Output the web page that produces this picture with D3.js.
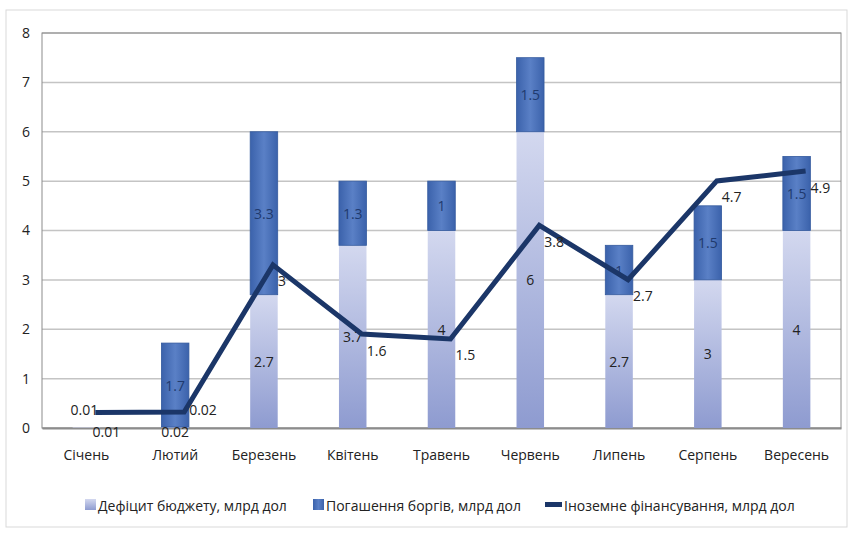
<!DOCTYPE html>
<html>
<head>
<meta charset="utf-8">
<script src="https://cdn.jsdelivr.net/npm/d3@7"></script>
<style>
  body { margin: 0; background: #fff; }
  text { font-family: "Open Sans", "Noto Sans", sans-serif; fill: #222; }
</style>
</head>
<body>
<div id="chart"></div>
<script>

// chart data
const months = ["Січень", "Лютий", "Березень", "Квітень", "Травень", "Червень", "Липень", "Серпень", "Вересень"];
const deficit = [0.01, 0.02, 2.7, 3.7, 4, 6, 2.7, 3, 4];
const debts = [0, 1.7, 3.3, 1.3, 1, 1.5, 1, 1.5, 1.5];
const foreign = [0.01, 0.02, 3, 1.6, 1.5, 3.8, 2.7, 4.7, 4.9];
const yTicks = [0, 1, 2, 3, 4, 5, 6, 7, 8];
const seriesNames = ["Дефіцит бюджету, млрд дол", "Погашення боргів, млрд дол", "Іноземне фінансування, млрд дол"];

var svgWidth = 850;
var svgHeight = 533;

// plot area edges
const plotLeft = 42, plotRight = 841, plotTop = 33, plotBottom = 428;

const svg = d3.select("#chart")
              .append("svg")
                .attr("width", svgWidth)
                .attr("height", svgHeight);

// gradients for the bars
const defs = svg.append("defs");
const g1 = defs.append("linearGradient").attr("id", "defGrad")
                .attr("x1", 0).attr("y1", 0).attr("x2", 0).attr("y2", 1);
g1.append("stop").attr("offset", "0%").attr("stop-color", "#d3d8ef");
g1.append("stop").attr("offset", "100%").attr("stop-color", "#8e9bd0");

const g2 = defs.append("linearGradient").attr("id", "debtGrad")
                .attr("x1", 0).attr("y1", 0).attr("x2", 1).attr("y2", 0);
g2.append("stop").attr("offset", "0%").attr("stop-color", "#3b62ab");
g2.append("stop").attr("offset", "50%").attr("stop-color", "#5a80c6");
g2.append("stop").attr("offset", "100%").attr("stop-color", "#3b62ab");

// outer chart border
svg.append("rect")
    .attr("x", 6).attr("y", 10)
    .attr("width", 841).attr("height", 517)
    .style("fill", "none")
    .style("stroke", "#d9d9d9");

// scales
const x = d3.scaleBand()
            .domain(months)
            .range([plotLeft, plotRight])
            .paddingInner(0.69)
            .paddingOuter(0.345);

const y = d3.scaleLinear()
            .domain([0, 8])
            .range([plotBottom, plotTop]);

// gridlines
svg.append("g")
    .selectAll("line")
    .data(yTicks)
    .enter()
    .append("line")
    .attr("x1", plotLeft)
    .attr("x2", plotRight)
    .attr("y1", d => y(d))
    .attr("y2", d => y(d))
    .style("stroke", "#c4c4c4")
    .style("stroke-width", 1.5);

// plot area border
svg.append("rect")
    .attr("x", plotLeft).attr("y", plotTop)
    .attr("width", plotRight - plotLeft).attr("height", plotBottom - plotTop)
    .style("fill", "none")
    .style("stroke", "#8c8c8c")
    .style("stroke-width", 1);

// y axis
const yAxis = svg.append("g")
    .attr("transform", "translate(" + plotLeft + ",0)")
    .call(d3.axisLeft(y).tickValues(yTicks).tickFormat(d3.format("d")).tickSize(0).tickPadding(12));
yAxis.select(".domain").remove();
yAxis.selectAll("text").style("font-size", "14px");

// x axis
const xAxis = svg.append("g")
    .attr("transform", "translate(0," + plotBottom + ")")
    .call(d3.axisBottom(x).tickSize(0).tickPadding(22));
xAxis.select(".domain").style("stroke", "#8c8c8c").style("stroke-width", 2);
xAxis.selectAll("text").style("font-size", "14px");

// stacked bars
const stacked = months.map((m, i) => ({ month: m, deficit: deficit[i], debts: debts[i] }));
const series = d3.stack().keys(["deficit", "debts"])(stacked);
const fills = ["url(#defGrad)", "url(#debtGrad)"];

series.forEach(function(s, k) {
  svg.append("g")
      .selectAll("rect")
      .data(s)
      .enter()
      .append("rect")
      .attr("x", d => x(d.data.month))
      .attr("y", d => y(d[1]))
      .attr("width", x.bandwidth())
      .attr("height", d => y(d[0]) - y(d[1]))
      .style("fill", fills[k])
      .style("stroke", k == 1 ? "#345a9e" : "none")
      .style("stroke-width", 0.8);
});

// bar value labels, centred in each segment
series.forEach(function(s, k) {
  svg.append("g")
      .selectAll("text")
      .data(s.filter(d => d[1] - d[0] > 0))
      .enter()
      .append("text")
      .attr("x", (d, i) => x(d.data.month) + x.bandwidth() / 2 + (d.data.month == months[0] ? 20 : 0))
      .attr("y", d => (d[1] - d[0]) < 0.1 ? y(0) + 3 : y((d[0] + d[1]) / 2))
      .attr("text-anchor", "middle")
      .attr("dominant-baseline", "central")
      .style("font-size", "14px")
      .style("fill", k == 1 ? "#1f3a6e" : "#222")
      .text(d => d3.format("~g")(d.data[s.key]));
});

// foreign financing line (drawn shifted like the original picture)
const line = d3.line()
               .x((d, i) => x(months[i]) + x.bandwidth() / 2)
               .y(d => y(d));

svg.append("path")
    .datum(foreign)
    .attr("d", line)
    .attr("transform", "translate(9,-15)")
    .style("fill", "none")
    .style("stroke", "#1b3668")
    .style("stroke-width", 5)
    .style("stroke-linejoin", "miter");

// line value labels
svg.append("g")
    .selectAll("text")
    .data(foreign)
    .enter()
    .append("text")
    .attr("x", (d, i) => x(months[i]) + x.bandwidth() / 2 + (i == 0 ? -2 : 14))
    .attr("y", (d, i) => y(d) + (i < 2 ? -18 : 1))
    .attr("text-anchor", (d, i) => i == 0 ? "middle" : "start")
    .attr("dominant-baseline", "central")
    .style("font-size", "14px")
    .text(d => d);

// legend
const legend = svg.append("g").attr("transform", "translate(0,505)");
const legendX = [85, 313, 545];

seriesNames.forEach(function(name, i) {
  if (i < 2) {
    legend.append("rect")
        .attr("x", legendX[i]).attr("y", -6)
        .attr("width", 11).attr("height", 11)
        .style("fill", fills[i]);
  } else {
    legend.append("rect")
        .attr("x", legendX[i]).attr("y", -3)
        .attr("width", 17).attr("height", 5)
        .style("fill", "#1b3668");
  }
  legend.append("text")
      .attr("x", legendX[i] + (i < 2 ? 13 : 19))
      .attr("y", 0)
      .attr("dominant-baseline", "central")
      .style("font-size", "14px")
      .text(name);
});

</script>
</body>
</html>
